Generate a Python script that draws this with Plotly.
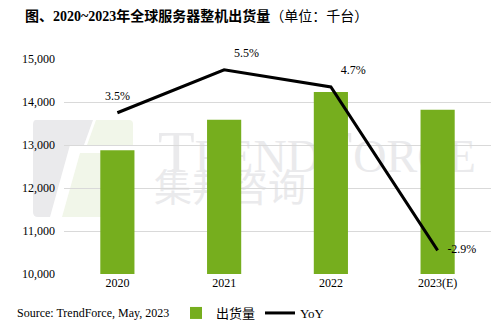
import plotly.graph_objects as go

# Shipment data (thousand units) and year-over-year growth
years = ["2020", "2021", "2022", "2023(E)"]
shipments = [12880, 13590, 14230, 13820]
yoy_pct = [3.5, 5.5, 4.7, -2.9]
yoy_labels = ["3.5%", "5.5%", "4.7%", "-2.9%"]
yoy_text_pos = ["top center", "top right", "top right", "middle right"]

y_ticks = [10000, 11000, 12000, 13000, 14000, 15000]

W, H = 491, 329
ML, MR, MT, MB = 64, 0, 59, 55
PW, PH = W - ML - MR, H - MT - MB

SERIF = "Liberation Serif, Noto Sans CJK SC, serif"
GREEN = "#76ae1e"


def px(x):
    return (x - ML) / PW


def py(y):
    return (H - MB - y) / PH


fig = go.Figure()

fig.add_trace(go.Bar(
    x=years, y=shipments, name="出货量",
    marker=dict(color=GREEN, line=dict(width=0)),
    yaxis="y",
))

# Invisible markers keep the percentage labels clear of the line
fig.add_trace(go.Scatter(
    x=years, y=yoy_pct, name="YoY",
    mode="lines+markers+text",
    line=dict(color="#000000", width=3),
    marker=dict(size=14, color="rgba(0,0,0,0)"),
    text=yoy_labels, textposition=yoy_text_pos,
    textfont=dict(family=SERIF, size=12, color="#000000"),
    yaxis="y2", cliponaxis=False,
))

# Faint company watermark drawn beneath the grid and bars
wm_gray = "#eaeaec"
wm_green = "#f1f6e9"
shapes = [
    dict(type="path", xref="paper", yref="paper", layer="below",
         path=(f"M {px(36)},{py(120)} L {px(93)},{py(120)} L {px(84)},{py(145)} "
               f"L {px(70)},{py(145)} L {px(50)},{py(217)} L {px(38)},{py(217)} "
               f"Q {px(33)},{py(217)} {px(33)},{py(212)} L {px(33)},{py(125)} "
               f"Q {px(33)},{py(120)} {px(36)},{py(120)} Z"),
         fillcolor=wm_gray, line=dict(width=0)),
    dict(type="path", xref="paper", yref="paper", layer="below",
         path=(f"M {px(96)},{py(120)} L {px(129)},{py(120)} Q {px(133)},{py(120)} {px(133)},{py(124)} "
               f"L {px(133)},{py(145)} L {px(87)},{py(145)} Z"),
         fillcolor=wm_green, line=dict(width=0)),
    dict(type="path", xref="paper", yref="paper", layer="below",
         path=(f"M {px(80)},{py(153)} L {px(133)},{py(153)} L {px(133)},{py(212)} "
               f"Q {px(133)},{py(217)} {px(129)},{py(217)} L {px(62)},{py(217)} Z"),
         fillcolor=wm_green, line=dict(width=0)),
    dict(type="rect", xref="paper", yref="paper", layer="below",
         x0=px(148), x1=px(486), y0=py(170), y1=py(120),
         line=dict(width=0), fillcolor="rgba(0,0,0,0)",
         label=dict(text="T<span style='font-size:46px'>REND</span>F<span style='font-size:46px'>ORCE</span>",
                    textposition="middle center",
                    font=dict(family="Liberation Serif", size=60, color=wm_gray))),
    dict(type="rect", xref="paper", yref="paper", layer="below",
         x0=px(148), x1=px(312), y0=py(208), y1=py(172),
         line=dict(width=0), fillcolor="rgba(0,0,0,0)",
         label=dict(text="集邦咨询", textposition="middle center",
                    font=dict(family="Noto Sans CJK SC", size=38, color=wm_gray))),
]

fig.update_layout(
    width=W, height=H,
    margin=dict(l=ML, r=MR, t=MT, b=MB),
    paper_bgcolor="#ffffff", plot_bgcolor="#ffffff",
    font=dict(family=SERIF, size=12, color="#000000"),
    bargap=0.68,
    title=dict(
        text="<b>图、2020~2023年全球服务器整机出货量</b>（单位：千台）",
        font=dict(family=SERIF, size=14, color="#000000"),
        xref="container", x=25 / W, xanchor="left",
        yref="container", y=1 - 16 / H, yanchor="middle",
    ),
    xaxis=dict(
        type="category", showgrid=False, showline=False, ticks="",
        tickfont=dict(family=SERIF, size=12, color="#000000"),
        zeroline=False,
    ),
    yaxis=dict(
        range=[10000, 15000], tickvals=y_ticks, tickformat=",",
        showgrid=True, gridcolor="#d9d9d9", gridwidth=1,
        showline=False, ticks="", zeroline=False,
        tickfont=dict(family=SERIF, size=12, color="#000000"),
        ticklabelstandoff=8,
    ),
    yaxis2=dict(
        overlaying="y", range=[-4, 6], visible=False,
        showgrid=False, zeroline=False,
    ),
    showlegend=True,
    legend=dict(
        orientation="h", x=px(176), xanchor="left",
        y=py(313), yanchor="middle",
        font=dict(family=SERIF, size=13, color="#000000"),
        itemwidth=30, bgcolor="rgba(0,0,0,0)",
    ),
    shapes=shapes,
    annotations=[dict(
        text="Source: TrendForce, May, 2023",
        xref="paper", yref="paper", x=px(15), y=py(313),
        xanchor="left", yanchor="middle", showarrow=False,
        font=dict(family=SERIF, size=12, color="#000000"),
    )],
)

fig.write_html("out.html")
